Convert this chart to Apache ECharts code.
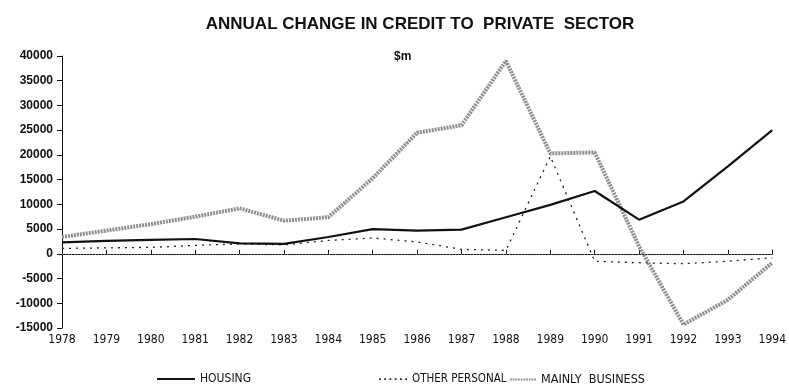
<!DOCTYPE html>
<html>
<head>
<meta charset="utf-8">
<script src="https://cdn.jsdelivr.net/npm/echarts@6/dist/echarts.min.js"></script>
<style>
  html, body { margin: 0; padding: 0; background: #fff; }
  #chart { width: 789px; height: 386px; }
</style>
</head>
<body>
<div id="chart"></div>
<script>
// Annual change in credit to the private sector, $m
const years = ['1978','1979','1980','1981','1982','1983','1984','1985','1986',
               '1987','1988','1989','1990','1991','1992','1993','1994'];
const housing       = [2300, 2600, 2800, 3000, 2100, 2000, 3400, 5000, 4700,
                       4900, 7400, 9900, 12700, 6900, 10600, 17700, 25000];
const otherPersonal = [1100, 1200, 1300, 1700, 2000, 1800, 2700, 3200, 2400,
                       900, 700, 19700, -1500, -1800, -2000, -1500, -800];
const mainlyBusiness = [3400, 4700, 6000, 7500, 9200, 6700, 7400, 15300, 24500,
                        26000, 39000, 20300, 20500, 1500, -14300, -9300, -1800];
const yTicks = { min: -15000, max: 40000, interval: 5000 };

const chart = echarts.init(document.getElementById('chart'), null, { renderer: 'canvas' });

const textColor = '#111';
const narrow = '"DejaVu Sans Condensed", "Liberation Sans Narrow", "Liberation Sans", Arial, sans-serif';
const legendText = { color: textColor, fontSize: 12, fontFamily: narrow };

// legend swatches: solid bar, row of dots, dense gray dots
const iconSolid = 'path://M0,0h40v2h-40z';
const iconDots = 'path://M0,0h2v2h-2z M6,0h2v2h-2z M12,0h2v2h-2z M18,0h2v2h-2z M24,0h2v2h-2z M30,0h2v2h-2z';
const iconBusiness = 'path://M0,0h2v2h-2z M3,0h2v2h-2z M6,0h2v2h-2z M9,0h2v2h-2z M12,0h2v2h-2z M15,0h2v2h-2z M18,0h2v2h-2z M21,0h2v2h-2z M24,0h2v2h-2z M27,0h2v2h-2z';

chart.setOption({
  backgroundColor: '#fff',
  animation: false,
  title: {
    text: 'ANNUAL CHANGE IN CREDIT TO  PRIVATE  SECTOR',
    left: 415, top: 11, textAlign: 'center',
    textStyle: { fontSize: 17, fontWeight: 'bold', color: textColor, fontFamily: 'Liberation Sans, Arial, sans-serif' }
  },
  graphic: [{
    type: 'text', left: 394, top: 51,
    style: { text: '$m', fontSize: 12, fontWeight: 'bold', fill: textColor, fontFamily: 'Liberation Sans, Arial, sans-serif' }
  }],
  legend: [
    { id: 'lgHousing', data: [{ name: 'HOUSING', icon: iconSolid }], left: 152, top: 368,
      itemWidth: 38, itemHeight: 2, itemGap: 2, textStyle: legendText },
    { id: 'lgOther', data: [{ name: 'OTHER PERSONAL', icon: iconDots }], left: 374, top: 368,
      itemWidth: 28, itemHeight: 2, textStyle: Object.assign({}, legendText, { fontSize: 11.5 }) },
    { id: 'lgBusiness', data: [{ name: 'MAINLY  BUSINESS', icon: iconBusiness }], left: 505, top: 368,
      itemWidth: 26, itemHeight: 2, itemGap: 2, textStyle: Object.assign({}, legendText, { fontSize: 12.5 }) }
  ],
  grid: { left: 62, right: 14, top: 56, bottom: 58, containLabel: false },
  xAxis: {
    type: 'category', data: years, boundaryGap: false,
    axisLine: { lineStyle: { color: '#111', width: 1 } },
    axisTick: { inside: true, length: 4, lineStyle: { color: '#111' } },
    axisLabel: { color: textColor, fontSize: 12, margin: 6, fontFamily: narrow },
    splitLine: { show: false }
  },
  yAxis: {
    type: 'value', min: yTicks.min, max: yTicks.max, interval: yTicks.interval,
    axisLine: { show: true, lineStyle: { color: '#111', width: 1 } },
    axisTick: { show: true, length: 5, lineStyle: { color: '#111' } },
    axisLabel: { color: textColor, fontSize: 12, fontWeight: 'bold', margin: 9,
                 fontFamily: 'Liberation Sans, Arial, sans-serif', formatter: v => String(v) },
    splitLine: { show: false }
  },
  series: [
    {
      name: 'HOUSING', type: 'line', data: housing, showSymbol: false, symbol: 'none',
      lineStyle: { color: '#111', width: 2.2 }, itemStyle: { color: '#111' }, z: 4,
      markLine: {
        silent: true, symbol: 'none', label: { show: false },
        lineStyle: { color: '#777', type: [1, 2], width: 1 },
        data: [{ yAxis: 0 }]
      }
    },
    {
      name: 'OTHER PERSONAL', type: 'line', data: otherPersonal, showSymbol: false, symbol: 'none',
      lineStyle: { color: '#222', width: 1.3, type: [2, 5] }, itemStyle: { color: '#222' }, z: 3
    },
    {
      name: 'MAINLY  BUSINESS', type: 'line', data: mainlyBusiness, showSymbol: false, symbol: 'none',
      lineStyle: { color: '#8e8e8e', width: 4, type: [2, 1] }, itemStyle: { color: '#8e8e8e' }, z: 2
    }
  ]
});
</script>
</body>
</html>
